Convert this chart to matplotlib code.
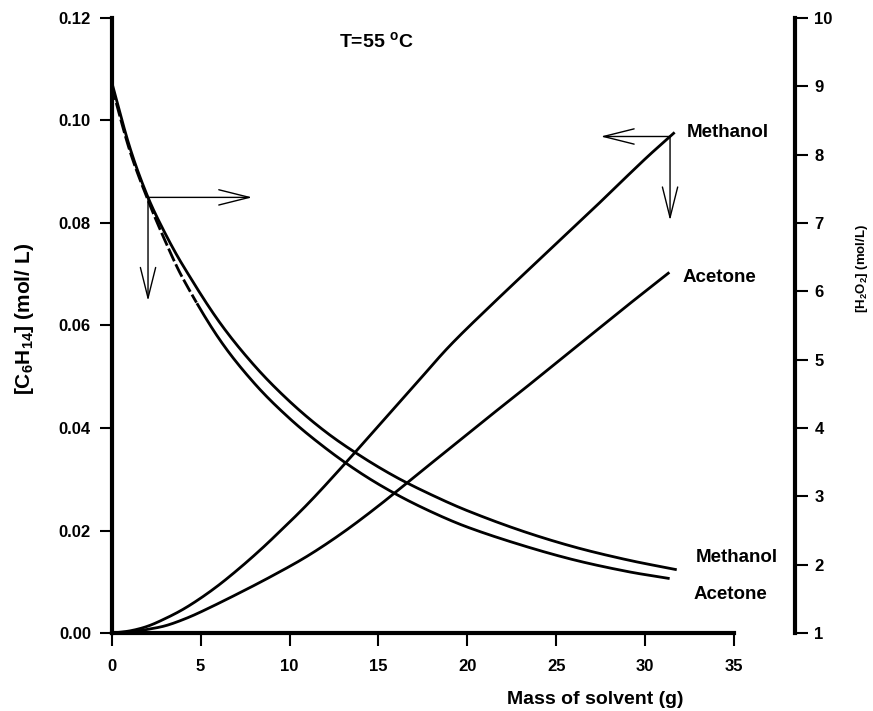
import matplotlib
matplotlib.use("Agg")
import matplotlib.pyplot as plt
import numpy as np

plt.rcParams['font.family'] = ['Liberation Sans', 'DejaVu Sans']
plt.rcParams['font.weight'] = 'bold'
plt.rcParams['mathtext.fontset'] = 'custom'
plt.rcParams['mathtext.rm'] = 'Liberation Sans:bold'
plt.rcParams['mathtext.it'] = 'Liberation Sans:bold'
plt.rcParams['mathtext.bf'] = 'Liberation Sans:bold'

# --- Data -------------------------------------------------------------
# H2O2 concentration (right axis), decreasing curves
x_h2o2_meth = [0, 1, 2, 3, 4, 6, 8, 10, 12, 14, 16, 18, 20, 23, 26, 29, 31.7]
h2o2_meth = [9.06, 8.12, 7.40, 6.85, 6.38, 5.57, 4.92, 4.39, 3.95, 3.59, 3.28,
             3.02, 2.79, 2.50, 2.26, 2.07, 1.93]
x_h2o2_acet = [0, 1, 2, 3, 4, 6, 8, 10, 12, 14, 16, 18, 20, 23, 26, 29, 31.3]
h2o2_acet = [9.00, 8.07, 7.36, 6.74, 6.19, 5.32, 4.66, 4.14, 3.71, 3.34, 3.03,
             2.77, 2.55, 2.29, 2.07, 1.90, 1.80]

# C6H14 concentration (left axis), increasing curves
x_c6_meth = [0, 1, 2, 3, 4, 5, 6, 7, 8, 9, 11, 13, 15, 17, 19, 21.5, 24, 27,
             30, 31.6]
c6_meth = [0, 0.0004, 0.0013, 0.0028, 0.0046, 0.0068, 0.0093, 0.0121, 0.0151,
           0.0183, 0.0251, 0.0326, 0.0404, 0.0482, 0.0560, 0.0645, 0.0727,
           0.0825, 0.0925, 0.0975]
x_c6_acet = [0, 1, 2, 3, 4, 5, 7, 9, 11, 13, 15, 17, 19, 21, 23, 25, 27, 29,
             31.3]
c6_acet = [0, 0.0002, 0.0007, 0.0014, 0.0026, 0.0041, 0.0075, 0.0111, 0.0150,
           0.0196, 0.0248, 0.0304, 0.0360, 0.0416, 0.0471, 0.0527, 0.0583,
           0.0639, 0.0702]

x_ticks = [0, 5, 10, 15, 20, 25, 30, 35]
left_ticks = [0.00, 0.02, 0.04, 0.06, 0.08, 0.10, 0.12]
right_ticks = [1, 2, 3, 4, 5, 6, 7, 8, 9, 10]


def spline(x, y, xs):
    """Cubic Hermite curve through the points with central-difference tangents."""
    x = np.asarray(x, float)
    y = np.asarray(y, float)
    h = np.diff(x)
    d = np.diff(y) / h
    m = np.empty_like(y)
    m[1:-1] = (y[2:] - y[:-2]) / (x[2:] - x[:-2])
    m[0] = d[0]
    m[-1] = d[-1]
    idx = np.clip(np.searchsorted(x, xs) - 1, 0, len(h) - 1)
    t = (xs - x[idx]) / h[idx]
    h00 = 2 * t**3 - 3 * t**2 + 1
    h10 = t**3 - 2 * t**2 + t
    h01 = -2 * t**3 + 3 * t**2
    h11 = t**3 - t**2
    return (h00 * y[idx] + h10 * h[idx] * m[idx] + h01 * y[idx + 1]
            + h11 * h[idx] * m[idx + 1])


def smooth(x, y, n=500):
    xs = np.linspace(x[0], x[-1], n)
    return xs, spline(x, y, xs)


# --- Figure -----------------------------------------------------------
fig = plt.figure(figsize=(8.73, 7.11), dpi=100)
ax = fig.add_axes([0.128, 0.1097, 0.9107 - 0.128, 0.9747 - 0.1097])
ax2 = ax.twinx()

lw = 2.0
ax.plot(*smooth(x_c6_meth, c6_meth), color='black', lw=lw)
ax.plot(*smooth(x_c6_acet, c6_acet), color='black', lw=lw)

ax2.plot(*smooth(x_h2o2_meth, h2o2_meth), color='black', lw=lw)
xs, ys = smooth(x_h2o2_acet, h2o2_acet)
m1 = xs <= 4.8
ax2.plot(xs[m1], ys[m1], color='black', lw=lw, linestyle=(0, (5, 1.2)))
ax2.plot(xs[xs >= 4.8], ys[xs >= 4.8], color='black', lw=lw)

ax.set_xlim(0, 38.43)
ax.set_ylim(0, 0.12)
ax2.set_ylim(1, 10)

for s in ['top', 'right']:
    ax.spines[s].set_visible(False)
for s in ['top', 'left', 'bottom']:
    ax2.spines[s].set_visible(False)
ax.spines['left'].set_linewidth(3)
ax.spines['bottom'].set_linewidth(3)
ax.spines['bottom'].set_bounds(0, 35)
ax2.spines['right'].set_linewidth(3)

ax.set_xticks(x_ticks)
ax.set_xticklabels([str(t) for t in x_ticks])
ax.set_yticks(left_ticks)
ax.set_yticklabels([f"{t:.2f}" for t in left_ticks])
ax2.set_yticks(right_ticks)
ax2.set_yticklabels([str(t) for t in right_ticks])

ax.tick_params(axis='both', direction='out', length=9, width=1.5,
               labelsize=12, pad=6)
ax.tick_params(axis='x', pad=10)
ax2.tick_params(axis='y', direction='out', length=9, width=1.5,
                labelsize=12, pad=5)
for lab in ax.get_xticklabels() + ax.get_yticklabels() + ax2.get_yticklabels():
    lab.set_fontweight('bold')

# Arrows
ap = dict(arrowstyle='->,head_length=2.2,head_width=0.55', lw=1.0,
          color='black', shrinkA=0, shrinkB=0, mutation_scale=10)
x0 = 2.04
y0 = float(spline(x_h2o2_meth, h2o2_meth, np.array([x0]))[0])
ax2.annotate('', xy=(7.9, y0), xytext=(x0, y0), arrowprops=ap)
ax2.annotate('', xy=(x0, 5.86), xytext=(x0, y0), arrowprops=ap)
x1 = 31.4
y1 = float(spline(x_c6_meth, c6_meth, np.array([x1]))[0])
ax.annotate('', xy=(27.5, y1), xytext=(x1, y1), arrowprops=ap)
ax.annotate('', xy=(x1, 0.0805), xytext=(x1, y1), arrowprops=ap)

# Labels
fs = 13.5
ax.text(32.36, 0.0977, 'Methanol', fontsize=fs, fontweight='bold',
        va='center', ha='left')
ax.text(32.08, 0.0694, 'Acetone', fontsize=fs, fontweight='bold',
        va='center', ha='left')
ax2.text(32.87, 2.10, 'Methanol', fontsize=fs, fontweight='bold',
         va='center', ha='left')
ax2.text(32.7, 1.56, 'Acetone', fontsize=fs, fontweight='bold',
         va='center', ha='left')
ax.text(14.87, 0.1156, 'T=55 $^{o}$C', fontsize=14, fontweight='bold',
        va='center', ha='center')

fig.text(595 / 873, 1 - 700 / 711, 'Mass of solvent (g)', fontsize=14,
         fontweight='bold', ha='center', va='center')
fig.text(25 / 873, 1 - 319 / 711, '[C$_6$H$_{14}$] (mol/ L)', fontsize=15,
         fontweight='bold', ha='center', va='center', rotation=90)
fig.text(862 / 873, 1 - 268 / 711, '[H$_2$O$_2$] (mol/L)', fontsize=9.5,
         fontweight='bold', ha='center', va='center', rotation=90)

fig.savefig('out.png', dpi=100)
